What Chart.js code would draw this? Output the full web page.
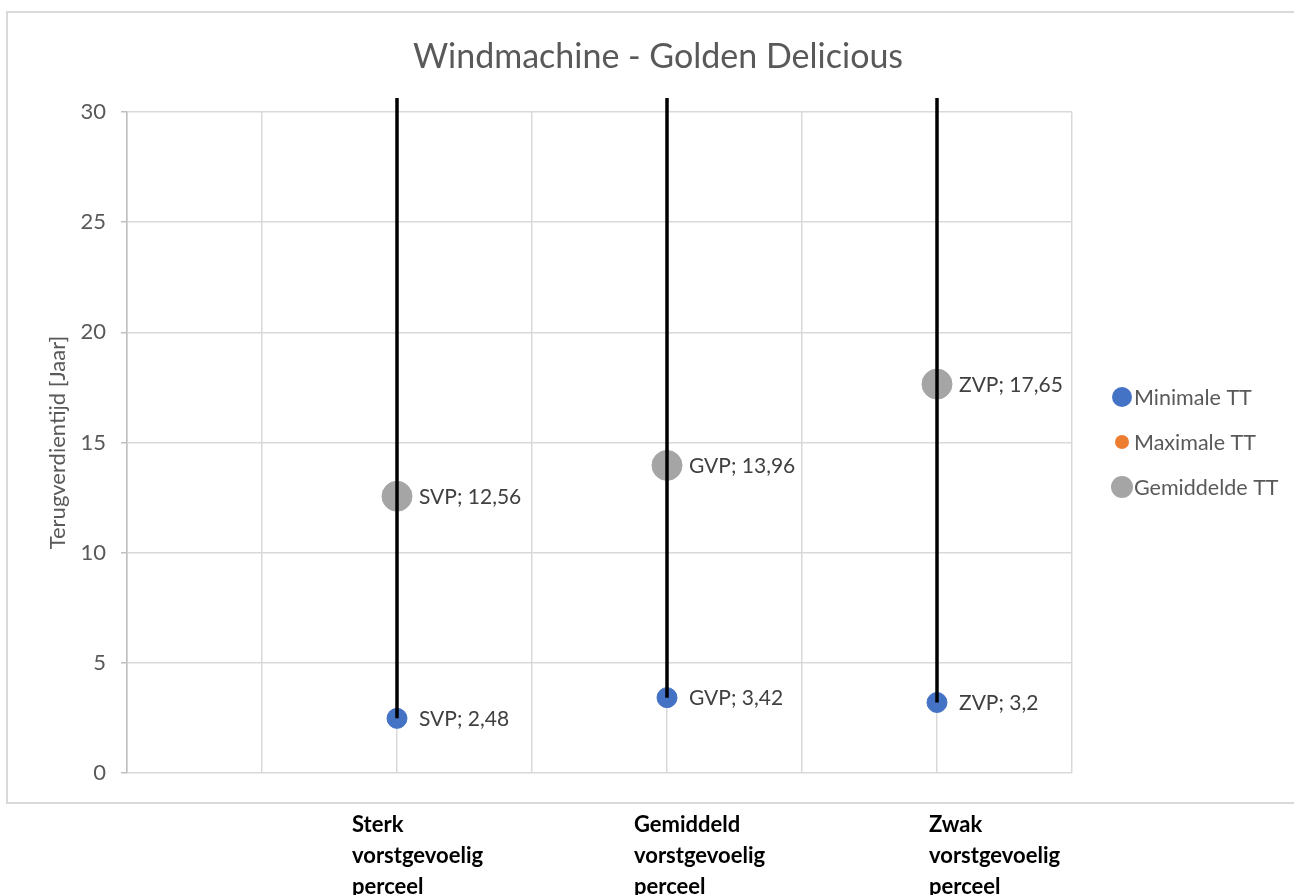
<!DOCTYPE html>
<html>
<head>
<meta charset="utf-8">
<script src="https://cdn.jsdelivr.net/npm/chart.js@4.4.0/dist/chart.umd.min.js"></script>
<style>
  html, body { margin: 0; padding: 0; background: #fff; }
  #wrap { width: 1294px; height: 895px; position: relative; }
</style>
</head>
<body>
<div id="wrap"><canvas id="graph" width="1294" height="895"></canvas></div>
<script>
// data
const categories = ['Sterk vorstgevoelig perceel', 'Gemiddeld vorstgevoelig perceel', 'Zwak vorstgevoelig perceel'];
const shortNames = ['SVP', 'GVP', 'ZVP'];
const xPos = [2, 4, 6];
const minimaleTT = [2.48, 3.42, 3.2];
const gemiddeldeTT = [12.56, 13.96, 17.65];
// maximum lies above the 30-year axis, not readable -> estimate
const maximaleTT = [40, 40, 40];
const yTicks = [0, 5, 10, 15, 20, 25, 30];

const FONT = 'Lato, "Open Sans", sans-serif';
const grey = '#595959';
// category text boxes sit left of their point, not all the same
const catShift = [-45, -33, -8];

function pts(vals) {
    return vals.map((v, i) => ({x: xPos[i], y: v}));
}

// hi-lo lines: min -> max per category, gaps between them
const hiLo = [];
for (let i = 0; i < xPos.length; i++) {
    hiLo.push({x: xPos[i], y: minimaleTT[i]});
    hiLo.push({x: xPos[i], y: maximaleTT[i]});
    hiLo.push({x: xPos[i], y: null});
}

const fmt = v => String(v).replace('.', ',');

const extras = {
    id: 'extras',
    beforeDraw(chart) {
        const c = chart.ctx;
        c.save();
        c.strokeStyle = '#d9d9d9';
        c.lineWidth = 2;
        c.strokeRect(7, 12, 1300, 791);
        // title
        c.fillStyle = grey;
        c.font = '34px ' + FONT;
        c.textAlign = 'center';
        c.textBaseline = 'middle';
        c.fillText('Windmachine - Golden Delicious', 658, 57);
        c.restore();
    },
    afterDraw(chart) {
        const c = chart.ctx;
        c.save();
        // data labels
        c.font = '21px ' + FONT;
        c.fillStyle = '#404040';
        c.textAlign = 'left';
        c.textBaseline = 'middle';
        [[1, minimaleTT], [3, gemiddeldeTT]].forEach(([di, vals]) => {
            const meta = chart.getDatasetMeta(di);
            meta.data.forEach((p, i) => {
                c.fillText(shortNames[i] + '; ' + fmt(vals[i]), p.x + 22, p.y + 1);
            });
        });
        // category labels under the frame
        const xs = chart.scales.x;
        c.font = 'bold 22px ' + FONT;
        c.fillStyle = '#000';
        c.textBaseline = 'middle';
        categories.forEach((cat, i) => {
            const words = cat.split(' ');
            const px = xs.getPixelForValue(xPos[i]) + catShift[i];
            words.forEach((w, k) => c.fillText(w, px, 825 + k * 31));
        });
        // legend
        const items = [
            ['Minimale TT', '#4472c4', 10],
            ['Maximale TT', '#ed7d31', 7],
            ['Gemiddelde TT', '#a5a5a5', 11]
        ];
        c.font = '21.5px ' + FONT;
        items.forEach((it, k) => {
            const y = 397 + k * 45;
            c.beginPath();
            c.fillStyle = it[1];
            c.arc(1122, y, it[2], 0, Math.PI * 2);
            c.fill();
            c.fillStyle = grey;
            c.fillText(it[0], 1134, y + 1);
        });
        c.restore();
    }
};

new Chart(document.getElementById('graph'), {
    type: 'scatter',
    data: {
        datasets: [{
            label: 'hilo',
            data: hiLo,
            showLine: true,
            spanGaps: false,
            borderColor: '#000',
            borderWidth: 3.5,
            pointRadius: 0,
            order: 0,
            clip: {left: 0, top: 14, right: 0, bottom: 0}
        }, {
            label: 'Minimale TT',
            data: pts(minimaleTT),
            backgroundColor: '#4472c4',
            borderColor: '#4472c4',
            pointRadius: 10,
            order: 2
        }, {
            label: 'Maximale TT',
            data: pts(maximaleTT),
            backgroundColor: '#ed7d31',
            borderColor: '#ed7d31',
            pointRadius: 7,
            order: 2
        }, {
            label: 'Gemiddelde TT',
            data: pts(gemiddeldeTT),
            backgroundColor: '#a5a5a5',
            borderColor: '#a5a5a5',
            pointRadius: 15,
            order: 1
        }]
    },
    options: {
        responsive: false,
        animation: false,
        layout: { padding: {left: 0, top: 112, right: 222, bottom: 122} },
        plugins: {
            legend: { display: false },
            title: { display: false },
            tooltip: { enabled: false }
        },
        scales: {
            x: {
                type: 'linear',
                min: 0,
                max: 7,
                ticks: { display: false, stepSize: 1 },
                grid: { color: '#d9d9d9', lineWidth: 1.5, drawTicks: false },
                border: { display: false },
                afterFit: s => { s.height = 0; }
            },
            y: {
                min: 0,
                max: 30,
                afterBuildTicks: s => { s.ticks = yTicks.map(v => ({value: v})); },
                ticks: { color: grey, font: {family: FONT, size: 22}, padding: 15 },
                grid: { color: '#d9d9d9', lineWidth: 1.5, tickLength: 6, tickColor: '#bfbfbf' },
                border: { display: true, color: '#bfbfbf', width: 1.5 },
                title: {
                    display: true,
                    text: 'Terugverdientijd [Jaar]',
                    color: grey,
                    font: {family: FONT, size: 22},
                    padding: {top: 45, bottom: 0}
                },
                afterFit: s => { s.width = 127; }
            }
        }
    },
    plugins: [extras]
});
</script>
</body>
</html>
